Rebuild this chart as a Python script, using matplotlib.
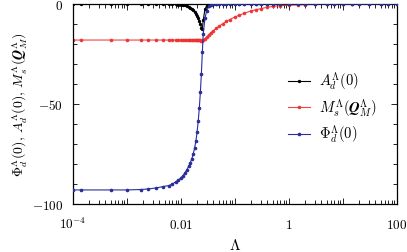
import numpy as np
import matplotlib
matplotlib.use('Agg')
import matplotlib.pyplot as plt
from matplotlib.ticker import LogLocator, FixedLocator, MultipleLocator, NullFormatter

plt.rcParams['mathtext.fontset'] = 'cm'
plt.rcParams['font.family'] = 'serif'
plt.rcParams['font.serif'] = ['DejaVu Serif']

# cutoff values (shared grid)
lam = [1e-4, 1.4e-4, 5e-4, 1e-3, 1.8e-3, 2.5e-3, 3.5e-3, 4.7e-3, 6e-3, 7e-3,
       8e-3, 9e-3, 0.010, 0.011, 0.012, 0.013, 0.014, 0.015, 0.016, 0.017,
       0.018, 0.019, 0.020, 0.021, 0.022, 0.023, 0.024, 0.025, 0.026, 0.028,
       0.030, 0.033, 0.036, 0.04, 0.045, 0.05, 0.06, 0.07, 0.08, 0.1,
       0.12, 0.15, 0.2, 0.25, 0.3, 0.4, 0.5, 0.7, 1, 1.5,
       2, 3, 5, 7, 10, 15, 20, 30, 50, 70, 100]

A_d = [0, 0, 0, 0, 0, 0, 0, -0.05, -0.1, -0.15,
       -0.2, -0.25, -0.3, -0.4, -0.6, -0.9, -1.3, -1.8, -2.4, -3.1,
       -3.9, -4.9, -6.0, -7.2, -8.5, -10.0, -11.8, -12.5, -8.0, -2.5,
       -1.0, -0.3, -0.1, -0.05, 0, 0, 0, 0, 0, 0,
       0, 0, 0, 0, 0, 0, 0, 0, 0, 0,
       0, 0, 0, 0, 0, 0, 0, 0, 0, 0, 0]

M_s = [-18, -18, -18, -18, -18, -18, -18, -18, -18, -18,
       -18, -18, -18, -18, -18, -18, -18, -18, -18, -18,
       -18, -18, -18, -18.1, -18.1, -18.2, -18.3, -18.4, -18.2, -17.4,
       -16.5, -15.3, -14.3, -13.3, -12.2, -11.2, -9.8, -8.7, -7.8, -6.5,
       -5.6, -4.6, -3.4, -2.8, -2.3, -1.6, -1.2, -0.8, -0.55, -0.4,
       -0.3, -0.2, -0.12, -0.09, -0.06, -0.04, -0.03, -0.02, -0.01, -0.01, 0]

Phi_d = [-93, -93, -93, -93, -92.8, -92.5, -92, -91.3, -90.8, -90,
         -89, -88, -87, -85.8, -84.3, -82.8, -81, -79.3, -77.3, -75,
         -72, -68.5, -64, -58.5, -52, -44, -35, -24, -15, -7,
         -3.5, -1.2, -0.4, -0.1, 0, 0, 0, 0, 0, 0,
         0, 0, 0, 0, 0, 0, 0, 0, 0, 0,
         0, 0, 0, 0, 0, 0, 0, 0, 0, 0, 0]

xtick_pos = [1e-4, 1e-3, 1e-2, 1e-1, 1, 10, 100]
xtick_lab = [r'$10^{-4}$', '', r'$0.01$', '', r'$1$', '', r'$100$']
ytick_pos = [-100, -50, 0]
ytick_lab = [r'$-100$', r'$-50$', r'$0$']

fig = plt.figure(figsize=(4.07, 2.53), dpi=100)
ax = fig.add_axes([0.179, 0.19, 0.796, 0.79])

ax.plot(lam, A_d, color='black', lw=0.8, marker='o', ms=1.4, label=r'$A_d^\Lambda(\mathbf{0})$', zorder=3)
ax.plot(lam, M_s, color='#f03030', lw=0.8, marker='o', ms=1.6, alpha=0.9,
        label=r'$M_s^\Lambda(\mathbfit{Q}_M^\Lambda)$', zorder=2)
ax.plot(lam, Phi_d, color='#2a2f9a', lw=0.8, marker='o', ms=1.6, label=r'$\Phi_d^\Lambda(\mathbf{0})$', zorder=4)

ax.set_xscale('log')
ax.set_xlim(1e-4, 100)
ax.set_ylim(-100, 0)

ax.xaxis.set_major_locator(FixedLocator(xtick_pos))
ax.set_xticklabels(xtick_lab)
ax.xaxis.set_minor_locator(LogLocator(base=10, subs=np.arange(2, 10), numticks=20))
ax.xaxis.set_minor_formatter(NullFormatter())
ax.yaxis.set_major_locator(FixedLocator(ytick_pos))
ax.set_yticklabels(ytick_lab)
ax.yaxis.set_minor_locator(MultipleLocator(10))

ax.tick_params(which='both', direction='in', top=True, right=True, labelsize=9.5, width=0.6)
ax.tick_params(which='major', length=4.5)
ax.tick_params(which='minor', length=3)
ax.tick_params(axis='x', which='major', pad=17)
ax.tick_params(axis='y', which='major', pad=7)
for lbl in ax.get_xticklabels():
    lbl.set_verticalalignment('baseline')
for s in ax.spines.values():
    s.set_linewidth(0.9)

ax.set_xlabel(r'$\Lambda$', fontsize=11, va='center')
ax.xaxis.set_label_coords(0.5, -0.205)
ax.set_ylabel(r'$\Phi_d^\Lambda(\mathbf{0}),\, A_d^\Lambda(\mathbf{0}),\, M_s^\Lambda(\mathbfit{Q}_M^\Lambda)$',
              fontsize=10, va='center')
ax.yaxis.set_label_coords(-0.165, 0.5)

ax.legend(loc='upper left', bbox_to_anchor=(0.664, 0.67), frameon=False, fontsize=10.5,
          numpoints=1, handlelength=1.5, handletextpad=0.6, labelspacing=0.3,
          borderpad=0, borderaxespad=0)

fig.savefig('out.png', dpi=100)
